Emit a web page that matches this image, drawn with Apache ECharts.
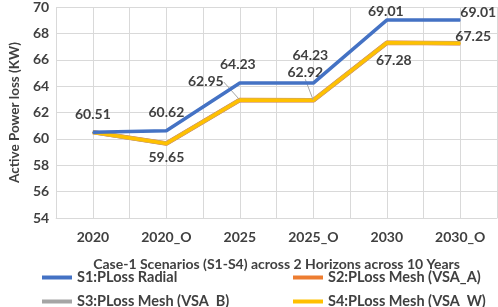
<!DOCTYPE html>
<html lang="en">
<head>
    <meta charset="UTF-8">
    <title>Case-1 Power Loss</title>
    <script src="https://cdn.jsdelivr.net/npm/echarts@6/dist/echarts.min.js"></script>
    <style>
        html, body { margin: 0; padding: 0; background: #fff; }
        #main { width: 498px; height: 307px; }
    </style>
</head>
<body>
    <div id="main"></div>
    <script>
        var years = ['2020', '2020_O', '2025', '2025_O', '2030', '2030_O'];
        var s1Radial = [60.51, 60.62, 64.23, 64.23, 69.01, 69.01];
        var s2MeshA = [60.51, 59.65, 62.95, 62.92, 67.28, 67.25];
        var s3MeshB = [60.51, 59.65, 62.95, 62.92, 67.28, 67.25];
        var s4MeshW = [60.51, 59.65, 62.95, 62.92, 67.28, 67.25];

        // label offsets (dx, dy) from each point, picked by eye
        var s1Offsets = [[0, -18], [0, -18], [-2, -19], [-3, -28], [-1, -9], [18, -8]];
        var s4Offsets = [null, [0, 14], [-34, -18], [-8, -28], [7, 18], [13, -7]];
        var s4Guides = [false, false, true, true, false, false];

        var font = 'Lato';
        var txt = { color: '#404040', fontWeight: 'bold', fontSize: 14, fontFamily: font };

        function labelledData(values, offsets, guides) {
            return values.map(function (v, i) {
                var item = { value: v };
                if (!offsets || !offsets[i]) {
                    item.label = { show: false };
                } else {
                    item.label = { show: true };
                    if (guides && guides[i]) {
                        item.labelLine = { show: true };
                    }
                }
                return item;
            });
        }

        function layoutFrom(offsets) {
            return function (p) {
                var o = offsets[p.dataIndex] || [0, 0];
                return { dx: o[0], dy: o[1] };
            };
        }

        function lineSeries(name, color, values, z) {
            return {
                name: name,
                type: 'line',
                data: values,
                z: z,
                symbol: 'circle',
                symbolSize: 1,
                showSymbol: true,
                itemStyle: { color: color },
                lineStyle: { width: 3.5, color: color },
                label: { show: false },
                emphasis: { disabled: true },
                animation: false
            };
        }

        var s1 = lineSeries('S1:PLoss Radial', '#4472C4', labelledData(s1Radial, s1Offsets), 5);
        s1.label = Object.assign({ show: true, position: 'inside' }, txt);
        s1.labelLayout = layoutFrom(s1Offsets);

        var s2 = lineSeries('S2:PLoss Mesh (VSA_A)', '#ED7D31', s2MeshA, 2);
        s2.lineStyle.width = 4.5;
        var s3 = lineSeries('S3:PLoss Mesh (VSA_B)', '#A5A5A5', s3MeshB, 3);
        s3.lineStyle.width = 4;

        var s4 = lineSeries('S4:PLoss Mesh (VSA_W)', '#FFC000', labelledData(s4MeshW, s4Offsets, s4Guides), 4);
        s4.label = Object.assign({ show: true, position: 'inside' }, txt);
        s4.labelLayout = layoutFrom(s4Offsets);
        s4.labelLine = { show: false, lineStyle: { color: '#A5A5A5', width: 1 } };

        function legendFor(name, left, top) {
            return {
                data: [name],
                left: left,
                top: top,
                itemWidth: 30,
                itemHeight: 4,
                itemGap: 3,
                icon: 'rect',
                textStyle: { color: '#404040', fontWeight: 'bold', fontSize: 14.5, fontFamily: font },
                selectedMode: false
            };
        }

        var myChart = echarts.init(document.getElementById('main'), null, { renderer: 'canvas' });
        var option = {
            backgroundColor: '#fff',
            animation: false,
            grid: { left: 47, right: 1, top: 5, bottom: 89, containLabel: false },
            legend: [
                legendFor('S1:PLoss Radial', 37, 265),
                legendFor('S2:PLoss Mesh (VSA_A)', 288, 265),
                legendFor('S3:PLoss Mesh (VSA_B)', 37, 289),
                legendFor('S4:PLoss Mesh (VSA_W)', 288, 289)
            ],
            xAxis: [
                {
                    type: 'category',
                    data: years,
                    boundaryGap: true,
                    name: 'Case-1 Scenarios (S1-S4) across 2 Horizons across 10 Years',
                    nameLocation: 'middle',
                    nameGap: 39,
                    nameTextStyle: { color: '#404040', fontWeight: 'bold', fontSize: 14, fontFamily: font },
                    axisLine: { show: true, lineStyle: { color: '#D9D9D9' } },
                    axisTick: { show: false },
                    axisLabel: Object.assign({ margin: 12 }, txt),
                    splitLine: { show: false }
                },
                {
                    type: 'value',
                    min: 0,
                    max: 12,
                    interval: 1,
                    position: 'bottom',
                    show: true,
                    axisLine: { show: false },
                    axisTick: { show: false },
                    axisLabel: { show: false },
                    splitLine: { show: true, lineStyle: { color: '#D9D9D9', width: 1 } }
                }
            ],
            yAxis: {
                type: 'value',
                min: 54,
                max: 70,
                interval: 2,
                name: 'Active Power loss (KW)',
                nameLocation: 'middle',
                nameGap: 34,
                nameTextStyle: { color: '#404040', fontWeight: 'bold', fontSize: 13.5, fontFamily: font },
                axisLine: { show: false },
                axisTick: { show: false },
                axisLabel: Object.assign({ margin: 7 }, txt),
                splitLine: { show: true, lineStyle: { color: '#D9D9D9', width: 1 } }
            },
            series: [s1, s2, s3, s4]
        };
        myChart.setOption(option);
    </script>
</body>
</html>
